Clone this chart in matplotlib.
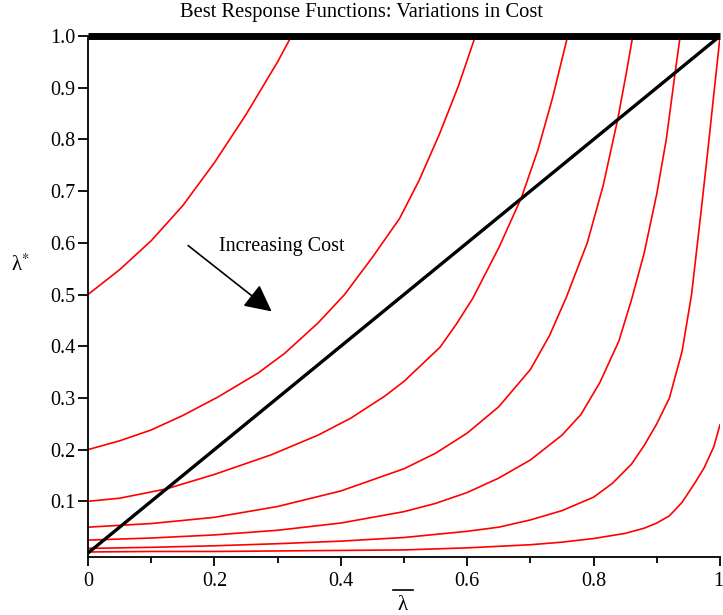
import matplotlib
matplotlib.use("Agg")
import matplotlib.pyplot as plt
from matplotlib.lines import Line2D
from matplotlib.transforms import ScaledTranslation

plt.rcParams['font.family'] = ['Liberation Serif', 'DejaVu Serif']
plt.rcParams['mathtext.fontset'] = 'stix'

# best response curves (lambda_bar, lambda*)
c1_x = [0, 0.05, 0.1, 0.15, 0.2, 0.25, 0.3, 0.322]
c1_y = [0.5, 0.548, 0.604, 0.672, 0.755, 0.848, 0.95, 1.0]

c2_x = [0, 0.05, 0.1, 0.15, 0.206, 0.269, 0.311, 0.364, 0.406, 0.45, 0.493, 0.524, 0.556, 0.586, 0.613]
c2_y = [0.2, 0.217, 0.238, 0.266, 0.302, 0.348, 0.386, 0.445, 0.5, 0.572, 0.647, 0.721, 0.81, 0.903, 1.0]

c3_x = [0, 0.05, 0.124, 0.2, 0.29, 0.364, 0.416, 0.469, 0.5, 0.557, 0.583, 0.609, 0.651, 0.686, 0.712, 0.735, 0.759]
c3_y = [0.1, 0.106, 0.124, 0.152, 0.19, 0.228, 0.261, 0.303, 0.332, 0.398, 0.443, 0.493, 0.593, 0.688, 0.78, 0.88, 1.0]

c4_x = [0, 0.1, 0.2, 0.3, 0.4, 0.5, 0.55, 0.6, 0.65, 0.7, 0.73, 0.757, 0.79, 0.815, 0.838, 0.852, 0.862]
c4_y = [0.05, 0.057, 0.069, 0.09, 0.12, 0.163, 0.193, 0.232, 0.283, 0.355, 0.42, 0.495, 0.6, 0.71, 0.838, 0.93, 1.0]

c5_x = [0, 0.1, 0.2, 0.3, 0.4, 0.5, 0.55, 0.6, 0.65, 0.7, 0.75, 0.78, 0.81, 0.84, 0.86, 0.88, 0.9, 0.915, 0.929, 0.937]
c5_y = [0.025, 0.029, 0.035, 0.044, 0.058, 0.08, 0.096, 0.117, 0.145, 0.18, 0.228, 0.268, 0.33, 0.41, 0.49, 0.58, 0.695, 0.8, 0.929, 1.0]

c6_x = [0, 0.1, 0.2, 0.3, 0.4, 0.5, 0.6, 0.65, 0.7, 0.75, 0.8, 0.83, 0.86, 0.88, 0.9, 0.92, 0.94, 0.955, 0.97, 0.98, 0.99, 1.0]
c6_y = [0.009, 0.011, 0.014, 0.018, 0.023, 0.03, 0.042, 0.05, 0.064, 0.082, 0.108, 0.135, 0.172, 0.208, 0.25, 0.30, 0.39, 0.5, 0.66, 0.77, 0.885, 0.998]

c7_x = [0, 0.1, 0.2, 0.3, 0.4, 0.5, 0.6, 0.7, 0.75, 0.8, 0.85, 0.88, 0.9, 0.92, 0.94, 0.96, 0.975, 0.99, 1.0]
c7_y = [0.002, 0.003, 0.003, 0.004, 0.005, 0.006, 0.01, 0.016, 0.021, 0.028, 0.038, 0.048, 0.058, 0.072, 0.098, 0.135, 0.165, 0.205, 0.248]

curves = [(c1_x, c1_y), (c2_x, c2_y), (c3_x, c3_y), (c4_x, c4_y),
          (c5_x, c5_y), (c6_x, c6_y), (c7_x, c7_y)]

diag_x = [0, 1]
diag_y = [0, 1]
top_x = [0, 1]
top_y = [1, 1]

xticks = [0, 0.2, 0.4, 0.6, 0.8, 1.0]
xtick_labels = ['0', '0.2', '0.4', '0.6', '0.8', '1']
xminor = [0.1, 0.3, 0.5, 0.7, 0.9]
yticks = [0.1, 0.2, 0.3, 0.4, 0.5, 0.6, 0.7, 0.8, 0.9, 1.0]
ytick_labels = ['0.1', '0.2', '0.3', '0.4', '0.5', '0.6', '0.7', '0.8', '0.9', '1.0']

W, H = 723, 615
fig = plt.figure(figsize=(W / 100, H / 100), dpi=100)
ax = fig.add_axes([88 / W, 1 - 557 / H, 632 / W, 521 / H])

for cx, cy in curves:
    ax.plot(cx, cy, color='red', lw=1.2, zorder=2)
ax.plot(diag_x, diag_y, color='black', lw=2.4, zorder=3, solid_capstyle='butt')
ax.plot(top_x, top_y, color='black', lw=5, zorder=4, clip_on=False, solid_capstyle='butt')

ax.set_xlim(0, 1)
ax.set_ylim(-0.0077, 1.0)
for s in ['top', 'right']:
    ax.spines[s].set_visible(False)
for s in ['left', 'bottom']:
    ax.spines[s].set_linewidth(1.3)

ax.set_xticks(xticks)
ax.set_xticklabels(xtick_labels)
ax.set_xticks(xminor, minor=True)
ax.set_yticks(yticks)
ax.set_yticklabels(ytick_labels)
ax.tick_params(axis='both', which='major', labelsize=14.5, width=1.3)
ax.tick_params(axis='x', which='major', length=6.5, pad=4)
ax.tick_params(axis='x', which='minor', length=4.5, width=1.3)
ax.tick_params(axis='y', which='major', length=7, pad=2)

# keep the last x label inside the canvas
last = ax.get_xticklabels()[-1]
last.set_transform(last.get_transform() + ScaledTranslation(-2 / 100, 0, fig.dpi_scale_trans))

ax.annotate('', xy=(0.294, 0.464), xytext=(0.155, 0.598),
            arrowprops=dict(arrowstyle='-|>,head_length=0.75,head_width=0.38',
                            color='black', lw=1.2, mutation_scale=22))
ax.text(0.207, 0.592, 'Increasing Cost', fontsize=14.5, va='center', ha='left')

fig.text(361 / W, 1 - 13 / H, 'Best Response Functions: Variations in Cost',
         fontsize=14.8, ha='center', va='center')
fig.text(20 / W, 1 - 265 / H, 'λ$^{*}$', fontsize=15, ha='center', va='center')
fig.text(403 / W, 1 - 606 / H, 'λ', fontsize=15, ha='center', va='center')
fig.add_artist(Line2D([393 / W, 413 / W], [1 - 590 / H, 1 - 590 / H],
                      color='black', lw=1.2))

fig.savefig('out.png', dpi=100)
